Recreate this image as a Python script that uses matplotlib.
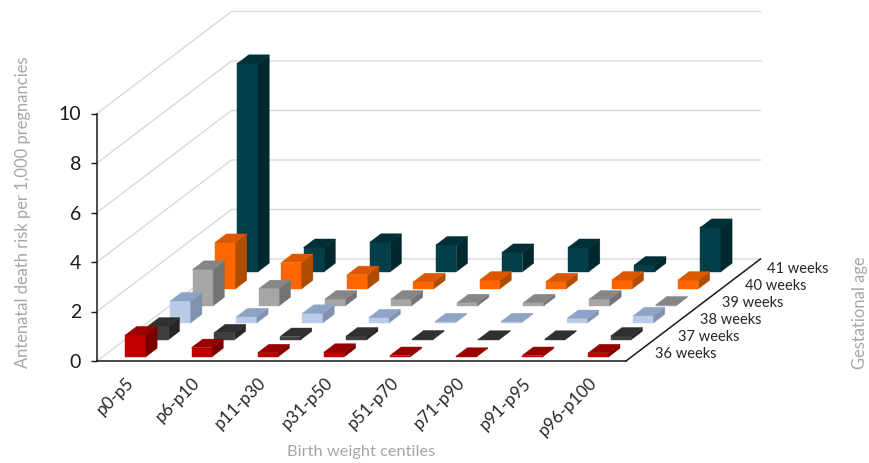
import matplotlib
matplotlib.use("Agg")
import matplotlib.pyplot as plt
from matplotlib.transforms import ScaledTranslation

plt.rcParams['font.family'] = ['Lato', 'DejaVu Sans']

centiles = ["p0-p5", "p6-p10", "p11-p30", "p31-p50", "p51-p70", "p71-p90", "p91-p95", "p96-p100"]
weeks = ["36 weeks", "37 weeks", "38 weeks", "39 weeks", "40 weeks", "41 weeks"]

# risk per 1,000 pregnancies, one list per gestational week
week36 = [0.88, 0.37, 0.16, 0.18, 0.05, 0.02, 0.05, 0.16]
week37 = [0.55, 0.28, 0.13, 0.15, 0.03, 0.02, 0.02, 0.15]
week38 = [0.88, 0.24, 0.38, 0.20, 0.04, 0.04, 0.17, 0.28]
week39 = [1.47, 0.69, 0.27, 0.27, 0.12, 0.12, 0.27, 0.03]
week40 = [1.87, 1.06, 0.57, 0.28, 0.35, 0.28, 0.35, 0.35]
week41 = [8.42, 0.98, 1.19, 1.08, 0.78, 0.98, 0.27, 1.79]
risk = [week36, week37, week38, week39, week40, week41]

# front, side and top shades for each week
shades = [
    ("#C00000", "#7A0000", "#990000"),
    ("#404040", "#262626", "#303030"),
    ("#B8CCE8", "#7F93AF", "#8EA4C6"),
    ("#A6A6A6", "#737373", "#868686"),
    ("#FF6600", "#B04C00", "#DB5800"),
    ("#023F48", "#01282E", "#012F36"),
]

# one depth step shifts this far along the x and y data axes
DEPTH_X = 0.339
DEPTH_Y = 0.687
BAR_W = 0.31
BAR_D = 0.5


def project(x, z, d):
    return x + d * DEPTH_X, z + d * DEPTH_Y


def face(ax, corners, color, order):
    pts = [project(*c) for c in corners]
    ax.fill([p[0] for p in pts], [p[1] for p in pts], color=color, lw=0.3,
            clip_on=False, zorder=order)


def draw_bar(ax, x, d, value, colors, order):
    x0, x1 = x - BAR_W / 2, x + BAR_W / 2
    d0, d1 = d - BAR_D / 2, d + BAR_D / 2
    face(ax, [(x0, 0, d0), (x1, 0, d0), (x1, value, d0), (x0, value, d0)], colors[0], order)
    face(ax, [(x1, 0, d0), (x1, 0, d1), (x1, value, d1), (x1, value, d0)], colors[1], order)
    face(ax, [(x0, value, d0), (x1, value, d0), (x1, value, d1), (x0, value, d1)], colors[2], order)


def draw_walls(ax):
    n_x, n_d = len(centiles), len(weeks)
    for v in range(0, 11, 2):
        pts = [project(0, v, 0), project(0, v, n_d), project(n_x, v, n_d)]
        ax.plot([p[0] for p in pts], [p[1] for p in pts], color="#D9D9D9", lw=1,
                clip_on=False, zorder=1)
    edge = [project(n_x, 0, 0), project(n_x, 0, n_d)]
    ax.plot([p[0] for p in edge], [p[1] for p in edge], color="#1A1A1A", lw=1.1,
            clip_on=False, zorder=2)


fig = plt.figure(figsize=(8.69, 4.63), dpi=100)
ax = fig.add_axes([97 / 869, 1 - 361 / 463, 529 / 869, 247.5 / 463])
ax.set_xlim(0, len(centiles))
ax.set_ylim(0, 10)
ax.patch.set_visible(False)

draw_walls(ax)

# back row first so nearer bars cover it
order = 3
for s in range(len(weeks) - 1, -1, -1):
    for i in range(len(centiles)):
        draw_bar(ax, i + 0.5, s + 0.5, risk[s][i], shades[s], order)
        order += 1

for s, label in enumerate(weeks):
    x, y = project(len(centiles), 0, s + 0.5)
    ax.annotate(label, (x, y), xytext=(18, -2), textcoords="offset pixels", ha="left",
                va="center", fontsize=10.5, color="#262626", annotation_clip=False)

for side in ("top", "right"):
    ax.spines[side].set_visible(False)
for side in ("left", "bottom"):
    ax.spines[side].set_color("#1A1A1A")
    ax.spines[side].set_linewidth(1.1)

ax.set_yticks(range(0, 11, 2))
ax.tick_params(axis="y", length=4.5, width=1, labelsize=14, pad=7, colors="#1A1A1A")
ax.set_xticks([i + 0.5 for i in range(len(centiles))])
ax.set_xticklabels(centiles, rotation=45, ha="right", va="top", rotation_mode="anchor",
                   fontsize=12.3, color="#262626")
ax.tick_params(axis="x", length=0, pad=10)
nudge = ScaledTranslation(-3 / 72, 0, fig.dpi_scale_trans)
for tick in ax.get_xticklabels():
    tick.set_transform(tick.get_transform() + nudge)

fig.text(361 / 869, 1 - 452 / 463, "Birth weight centiles", ha="center", va="center",
         fontsize=11.8, color="#A6A6A6")
fig.text(23 / 869, 1 - 212 / 463, "Antenatal death risk per 1,000 pregnancies", ha="center",
         va="center", rotation=90, fontsize=11.9, color="#A6A6A6")
fig.text(860 / 869, 1 - 313 / 463, "Gestational age", ha="center", va="center", rotation=90,
         fontsize=11.9, color="#A6A6A6")

fig.savefig("out.png", dpi=100)
